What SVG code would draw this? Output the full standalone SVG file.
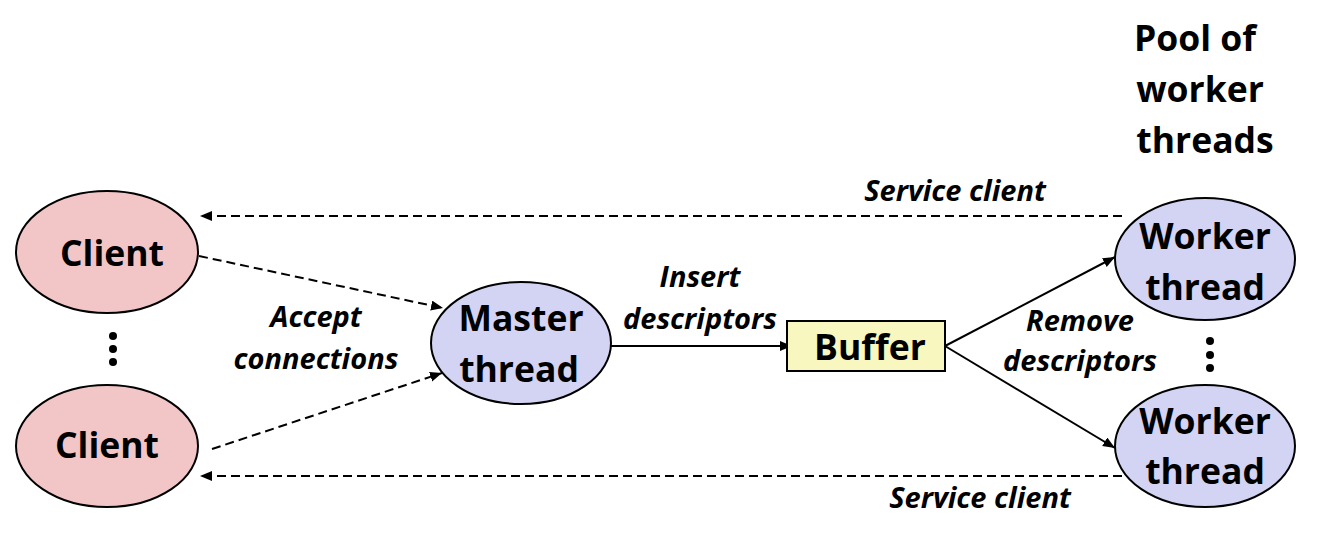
<svg xmlns="http://www.w3.org/2000/svg" width="1320" height="543" viewBox="0 0 1320 543">
<style>
.bg{fill:#ffffff}
.client{fill:#f2c6c6;stroke:#000;stroke-width:2}
.thread{fill:#d3d3f4;stroke:#000;stroke-width:2}
.buf{fill:#f8f7c0;stroke:#000;stroke-width:2}
.big{font-family:"Open Sans","Liberation Sans",sans-serif;font-weight:bold;font-size:35.5px;fill:#000;text-anchor:middle}
.lbl{font-family:"Open Sans","Liberation Sans",sans-serif;font-weight:bold;font-style:italic;font-size:29px;fill:#000;text-anchor:middle}
.dash{stroke:#000;stroke-width:2;stroke-dasharray:9,5;fill:none}
.solid{stroke:#000;stroke-width:2;fill:none}
.dot{fill:#000}
</style>
<defs>
<marker id="ah" markerUnits="userSpaceOnUse" markerWidth="14" markerHeight="12" refX="12" refY="5" orient="auto">
<path d="M0,0 L12,5 L0,10 Z" fill="#000"/>
</marker>
</defs>
<rect class="bg" x="0" y="0" width="1320" height="543"/>

<g id="connectors">
<line class="dash" x1="1122" y1="216" x2="200" y2="216" marker-end="url(#ah)"/>
<line class="dash" x1="1122" y1="476" x2="200" y2="476" marker-end="url(#ah)"/>
<line class="dash" x1="199" y1="256" x2="443" y2="308" marker-end="url(#ah)"/>
<line class="dash" x1="212" y1="449" x2="442" y2="373" marker-end="url(#ah)"/>
<line class="solid" x1="611" y1="346" x2="792" y2="346" marker-end="url(#ah)"/>
<line class="solid" x1="945" y1="346" x2="1115" y2="257" marker-end="url(#ah)"/>
<line class="solid" x1="945" y1="346" x2="1115" y2="448" marker-end="url(#ah)"/>
</g>

<g id="labels">
<text class="lbl" x="955" y="201">Service client</text>
<text class="lbl" x="980" y="508">Service client</text>
<text class="lbl" x="316" y="327">Accept</text>
<text class="lbl" x="316" y="369">connections</text>
<text class="lbl" x="700" y="287">Insert</text>
<text class="lbl" x="700" y="329">descriptors</text>
<text class="lbl" x="1080" y="331">Remove</text>
<text class="lbl" x="1080" y="371">descriptors</text>
</g>

<g id="client1">
<ellipse class="client" cx="107" cy="252" rx="91" ry="61"/>
<text class="big" x="112" y="266">Client</text>
</g>
<g id="client-dots">
<circle class="dot" cx="113" cy="336" r="4"/>
<circle class="dot" cx="113" cy="349" r="4"/>
<circle class="dot" cx="113" cy="362" r="4"/>
</g>
<g id="client2">
<ellipse class="client" cx="107" cy="446" rx="91" ry="61"/>
<text class="big" x="107" y="458">Client</text>
</g>

<g id="master">
<ellipse class="thread" cx="521" cy="343" rx="90" ry="61"/>
<text class="big" x="521" y="331">Master</text>
<text class="big" x="519" y="382">thread</text>
</g>

<g id="buffer">
<rect class="buf" x="787" y="321" width="158" height="50"/>
<text class="big" x="870" y="360">Buffer</text>
</g>

<g id="worker1">
<ellipse class="thread" cx="1205" cy="259" rx="90" ry="61"/>
<text class="big" x="1205" y="249">Worker</text>
<text class="big" x="1205" y="300">thread</text>
</g>
<g id="worker-dots">
<circle class="dot" cx="1210" cy="341" r="4"/>
<circle class="dot" cx="1210" cy="355" r="4"/>
<circle class="dot" cx="1210" cy="368" r="4"/>
</g>
<g id="worker2">
<ellipse class="thread" cx="1205" cy="446" rx="90" ry="61"/>
<text class="big" x="1205" y="434">Worker</text>
<text class="big" x="1205" y="484">thread</text>
</g>

<g id="pool-title">
<text class="big" x="1195" y="51">Pool of</text>
<text class="big" x="1200" y="102">worker</text>
<text class="big" x="1205" y="153">threads</text>
</g>
</svg>
